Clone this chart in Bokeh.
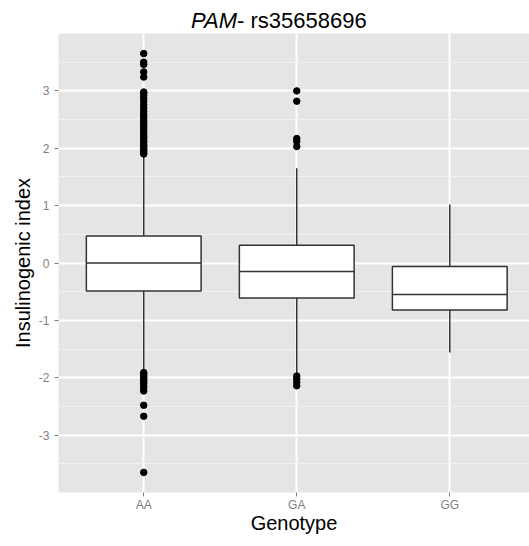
from bokeh.plotting import figure
from bokeh.models import Range1d, FixedTicker, Label
from bokeh.layouts import column
from bokeh.embed import file_html
from bokeh.resources import INLINE

# ---- data ----
genotypes = ["AA", "GA", "GG"]
xpos = [1, 2, 3]
q1 = [-0.49, -0.61, -0.82]
median = [0.0, -0.15, -0.55]
q3 = [0.47, 0.31, -0.06]
whisker_low = [-1.88, -1.93, -1.56]
whisker_high = [1.88, 1.65, 1.02]

aa_outliers = [1.90, 1.92, 1.95, 1.98, 2.00, 2.03, 2.06, 2.10, 2.13, 2.17, 2.20,
               2.24, 2.28, 2.32, 2.36, 2.40, 2.44, 2.48, 2.52, 2.56, 2.60, 2.65,
               2.70, 2.76, 2.82, 2.87, 2.92, 2.96, 2.98, 3.24, 3.33, 3.46, 3.50, 3.65,
               -1.91, -1.94, -1.97, -2.00, -2.03, -2.06, -2.10, -2.14, -2.18, -2.23,
               -2.48, -2.67, -3.65]
ga_outliers = [3.00, 2.82, 2.17, 2.12, 2.03, -1.97, -2.02, -2.08, -2.14]
gg_outliers = []

y_ticks = [-3, -2, -1, 0, 1, 2, 3]
y_minor = [-3.5, -2.5, -1.5, -0.5, 0.5, 1.5, 2.5, 3.5]

gene = "PAM"
snp = "- rs35658696"

FONT = "Liberation Sans"

xr = Range1d(0.443, 3.521)

# ---- title strip ----
t = figure(width=529, height=33, output_backend="svg", toolbar_location=None,
           x_range=xr, y_range=Range1d(0, 33), x_axis_type=None, y_axis_type=None,
           min_border_left=58, min_border_right=0, min_border_top=0,
           min_border_bottom=0)
t.background_fill_color = "white"
t.border_fill_color = "white"
t.outline_line_color = None
t.grid.visible = False
t.add_layout(Label(x=1.61, y=13, text=gene, text_align="right",
                   text_baseline="alphabetic", text_font=FONT,
                   text_font_style="italic", text_font_size="22px",
                   text_color="black"))
t.add_layout(Label(x=1.61, y=13, text=snp, text_align="left",
                   text_baseline="alphabetic", text_font=FONT,
                   text_font_size="22px", text_color="black"))

# ---- main plot ----
p = figure(width=529, height=513, output_backend="svg", toolbar_location=None,
           x_range=xr, y_range=Range1d(-4.0, 4.0),
           min_border_left=58, min_border_right=0, min_border_top=0,
           min_border_bottom=54)
p.background_fill_color = "#E5E5E5"
p.border_fill_color = "white"
p.outline_line_color = None

# axes
p.xaxis.ticker = FixedTicker(ticks=xpos)
p.xaxis.major_label_overrides = {x: g for x, g in zip(xpos, genotypes)}
p.yaxis.ticker = FixedTicker(ticks=y_ticks, minor_ticks=y_minor)
p.yaxis.major_label_overrides = {tk: str(tk) for tk in y_ticks}
for ax in (p.xaxis[0], p.yaxis[0]):
    ax.axis_line_color = None
    ax.major_tick_line_color = "#7F7F7F"
    ax.major_tick_out = 4
    ax.major_tick_in = 0
    ax.minor_tick_line_color = None
    ax.major_label_text_color = "#7F7F7F"
    ax.major_label_text_font = FONT
    ax.major_label_text_font_size = "12px"
    ax.axis_label_text_font = FONT
    ax.axis_label_text_font_size = "20px"
    ax.axis_label_text_font_style = "normal"
    ax.axis_label_text_color = "black"
p.xaxis.axis_label = "Genotype"
p.yaxis.axis_label = "Insulinogenic index"
p.xaxis.major_label_standoff = 1
p.xaxis.axis_label_standoff = -3
p.yaxis.major_label_standoff = 5
p.yaxis.axis_label_standoff = 2

# grid
p.xgrid.grid_line_color = "white"
p.xgrid.grid_line_width = 2
p.ygrid.grid_line_color = "white"
p.ygrid.grid_line_width = 2
p.ygrid.minor_grid_line_color = "#F2F2F2"
p.ygrid.minor_grid_line_width = 1

BOX = "#333333"
# whiskers
p.segment(x0=xpos, y0=q3, x1=xpos, y1=whisker_high, line_color=BOX, line_width=1.5)
p.segment(x0=xpos, y0=q1, x1=xpos, y1=whisker_low, line_color=BOX, line_width=1.5)
# boxes
p.vbar(x=xpos, width=0.75, bottom=q1, top=q3, fill_color="white",
       line_color=BOX, line_width=1.5)
# medians
p.segment(x0=[x - 0.375 for x in xpos], y0=median, x1=[x + 0.375 for x in xpos],
          y1=median, line_color=BOX, line_width=1.5)
# outliers
ox = [1] * len(aa_outliers) + [2] * len(ga_outliers) + [3] * len(gg_outliers)
oy = aa_outliers + ga_outliers + gg_outliers
p.scatter(x=ox, y=oy, size=6.5, fill_color="black", line_color="black")

layout = column(t, p, spacing=0)
open("out.html", "w").write(file_html(layout, INLINE))
